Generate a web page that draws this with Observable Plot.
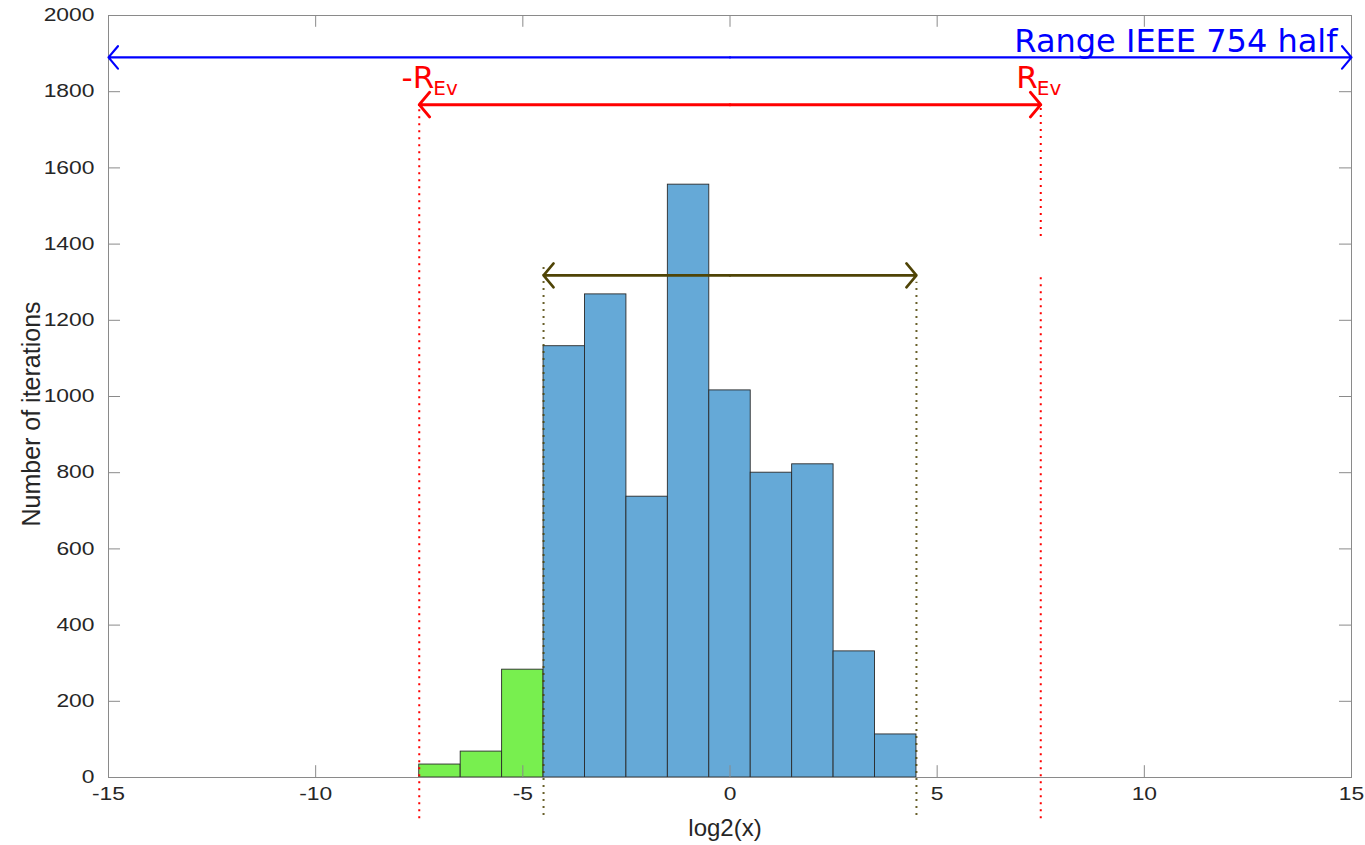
<!DOCTYPE html>
<html>
<head>
<meta charset="utf-8">
<script src="https://cdn.jsdelivr.net/npm/d3@7"></script>
<script src="https://cdn.jsdelivr.net/npm/@observablehq/plot@0.6"></script>
<style>
  html, body { margin: 0; padding: 0; background: #fff; }
  #chart svg { display: block; }
</style>
</head>
<body>
<div id="chart"></div>
<script>
// ---- data ----
const binStart = [-7.5, -6.5, -5.5, -4.5, -3.5, -2.5, -1.5, -0.5, 0.5, 1.5, 2.5, 3.5];
const binWidth = 1;
const counts   = [34, 68, 283, 1132, 1268, 737, 1556, 1016, 800, 822, 331, 113];
const binGroup = ["out", "out", "out", "in", "in", "in", "in", "in", "in", "in", "in", "in"];

const xTicks = [-15, -10, -5, 0, 5, 10, 15];
const yTicks = [0, 200, 400, 600, 800, 1000, 1200, 1400, 1600, 1800, 2000];

// annotation ranges: [from, to, level]
const rangeHalf = [-15, 15, 1890];
const rangeEv   = [-7.5, 7.5, 1766];
const rangeData = [-4.5, 4.5, 1318];

// dotted guide segments: [x, yFrom, yTo]
const evGuides   = [[-7.5, -108, 1760], [7.5, -108, 1322], [7.5, 1420, 1760]];
const dataGuides = [[-4.5, -100, 1342], [4.5, -100, 1300]];

const labelHalf = "Range IEEE 754 half";
const labelEvLeft  = ["-R", "Ev"];
const labelEvRight = ["R", "Ev"];

// ---- build ----
const bars = binStart.map((s, i) => ({x1: s, x2: s + binWidth, y: counts[i], g: binGroup[i]}));
const dbl = (r) => [{x1: (r[0] + r[1]) / 2, x2: r[0], y: r[2]}, {x1: (r[0] + r[1]) / 2, x2: r[1], y: r[2]}];
const guide = (arr) => arr.map(([x, a, b]) => ({x, y1: a, y2: b}));

const RED = "#ff0000", BLUE = "#0000ff", OLIVE = "#4f4406";
const tickFont = "'Liberation Sans', Arial, sans-serif";
const annFont = "'DejaVu Sans', sans-serif";

function evLabel(parts, xv, dx) {
  return [
    Plot.text([parts[0]], {x: () => xv, y: () => 1811, text: d => d, textAnchor: "end",
      lineAnchor: "bottom", dx, fill: RED, fontSize: 31, fontFamily: annFont}),
    Plot.text([parts[1]], {x: () => xv, y: () => 1792, text: d => d, textAnchor: "start",
      lineAnchor: "bottom", dx: dx - 1, fill: RED, fontSize: 20, fontFamily: annFont})
  ];
}

const chart = Plot.plot({
  width: 1365,
  height: 845,
  marginLeft: 108,
  marginRight: 14,
  marginTop: 15,
  marginBottom: 68,
  style: {fontFamily: tickFont, background: "#fff", overflow: "visible"},
  x: {domain: [-15, 15], label: null},
  y: {domain: [0, 2000], label: null},
  marks: [
    Plot.rectY(bars, {
      x1: "x1", x2: "x2", y: "y",
      fill: d => d.g === "out" ? "#78ef4f" : "#65a9d7",
      stroke: "#2a2a2a", strokeWidth: 0.9
    }),
    Plot.frame({stroke: "#8a8a8a", strokeWidth: 1}),
    // inward ticks (bottom/top, left/right)
    Plot.ruleX(xTicks, {x: d => d, y1: 0, y2: 31, stroke: "#8a8a8a"}),
    Plot.ruleX(xTicks, {x: d => d, y1: 1969, y2: 2000, stroke: "#8a8a8a"}),
    Plot.ruleY(yTicks, {y: d => d, x1: -15, x2: -14.71, stroke: "#8a8a8a"}),
    Plot.ruleY(yTicks, {y: d => d, x1: 14.71, x2: 15, stroke: "#8a8a8a"}),
    Plot.axisX({ticks: xTicks, tickSize: 0, tickPadding: 10, fontSize: 18, fill: "#262626",
      tickFormat: d => String(d), label: null}),
    Plot.axisY({ticks: yTicks, tickSize: 0, tickPadding: 14, fontSize: 18, fill: "#262626",
      tickFormat: d => String(d), label: null}),
    // dotted guides
    Plot.ruleX(guide(evGuides), {x: "x", y1: "y1", y2: "y2", stroke: RED, strokeWidth: 2,
      strokeDasharray: "2 5"}),
    Plot.ruleX(guide(dataGuides), {x: "x", y1: "y1", y2: "y2", stroke: OLIVE, strokeWidth: 2,
      strokeDasharray: "2 5", strokeOpacity: 0.85}),
    // double arrows
    Plot.arrow(dbl(rangeHalf), {x1: "x1", x2: "x2", y1: "y", y2: "y", stroke: BLUE,
      strokeWidth: 2.2, headLength: 10, headAngle: 100}),
    Plot.arrow(dbl(rangeEv), {x1: "x1", x2: "x2", y1: "y", y2: "y", stroke: RED,
      strokeWidth: 3, headLength: 8, headAngle: 100}),
    Plot.arrow(dbl(rangeData), {x1: "x1", x2: "x2", y1: "y", y2: "y", stroke: OLIVE,
      strokeWidth: 2.6, headLength: 9, headAngle: 100}),
    // annotation texts
    Plot.text([labelHalf], {x: () => rangeHalf[1], y: () => 1903, text: d => d, textAnchor: "end",
      lineAnchor: "bottom", dx: -14, fill: BLUE, fontSize: 32, fontFamily: annFont}),
    ...evLabel(labelEvLeft, rangeEv[0], 15),
    ...evLabel(labelEvRight, rangeEv[1], -3)
  ]
});

document.getElementById("chart").appendChild(chart);

const svg = d3.select(chart);
// widen tick labels horizontally like the reference's font
svg.selectAll("g[aria-label='x-axis tick label'] text, g[aria-label='y-axis tick label'] text")
  .each(function () {
    const t = this.getAttribute("transform");
    if (t) this.setAttribute("transform", t + " scale(1.27,1)");
  });

// axis labels as real text inside the svg
svg.append("text")
  .attr("x", 725).attr("y", 836)
  .attr("text-anchor", "middle")
  .attr("font-size", 24).attr("fill", "#262626")
  .attr("font-family", tickFont)
  .text("log2(x)");
svg.append("text")
  .attr("transform", "translate(31,414) rotate(-90)")
  .attr("text-anchor", "middle")
  .attr("font-size", 25).attr("fill", "#262626")
  .attr("font-family", tickFont)
  .attr("dy", "0.35em")
  .text("Number of iterations");
</script>
</body>
</html>
